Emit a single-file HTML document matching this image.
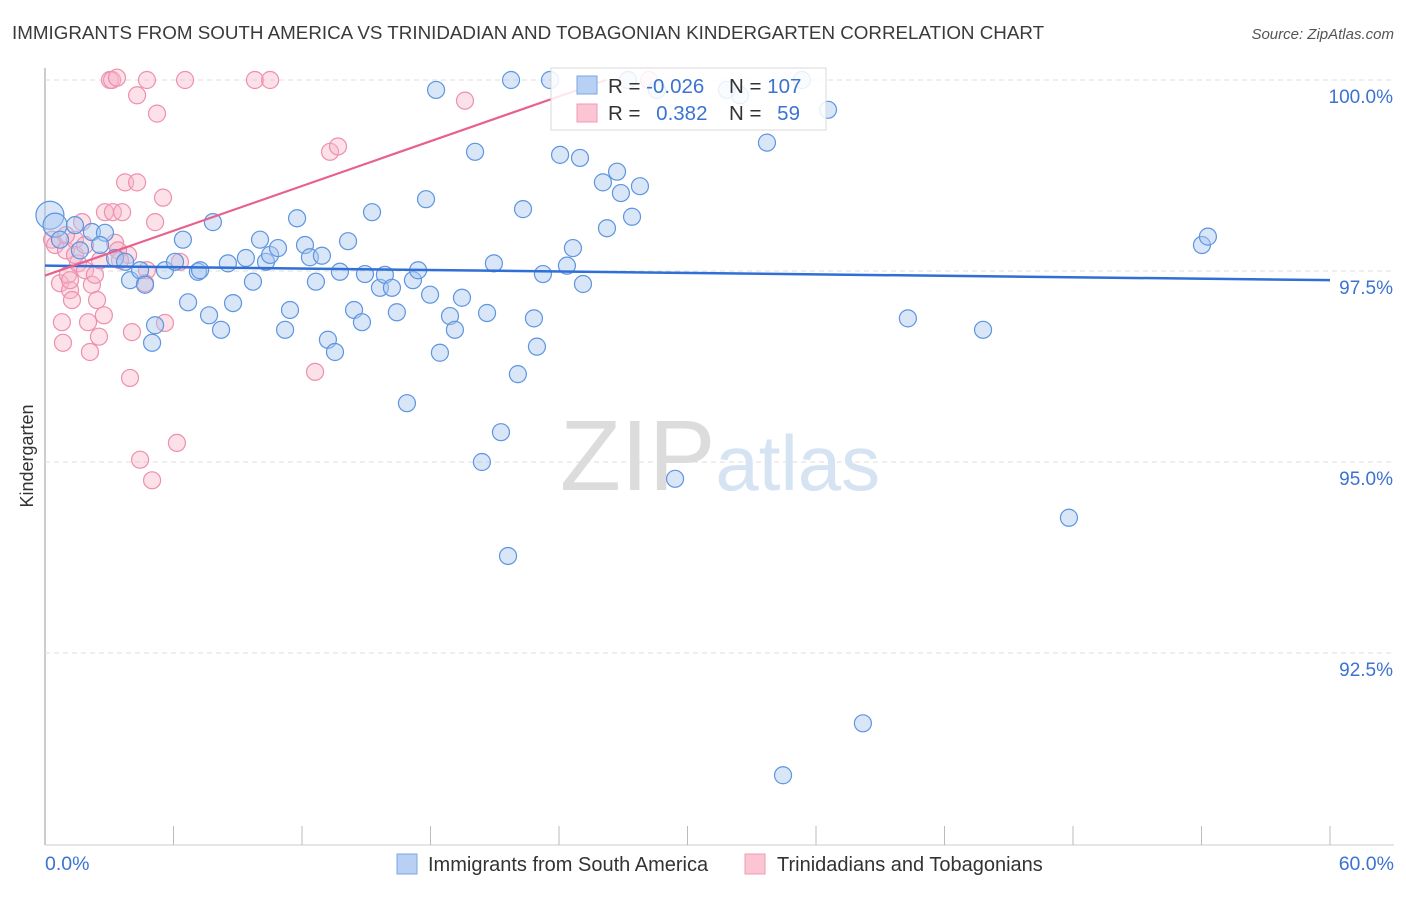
<!DOCTYPE html>
<html><head><meta charset="utf-8"><style>
body{margin:0;background:#fff;font-family:"Liberation Sans",sans-serif}
svg text{font-family:"Liberation Sans",sans-serif}
</style></head><body>
<svg id="chart" width="1406" height="892" viewBox="0 0 1406 892" xmlns="http://www.w3.org/2000/svg">
<text x="12" y="39" font-size="18.8" fill="#3a3a3a">IMMIGRANTS FROM SOUTH AMERICA VS TRINIDADIAN AND TOBAGONIAN KINDERGARTEN CORRELATION CHART</text>
<text x="1394" y="39" font-size="15" fill="#555" font-style="italic" text-anchor="end">Source: ZipAtlas.com</text>
<g id="grid"></g>
<text x="720" y="490" font-size="100" text-anchor="middle" fill="#e6e6e6" font-family="Liberation Serif"><tspan fill="#dcdcdc">ZIP</tspan><tspan fill="#d6e3f3" font-family="Liberation Sans" font-size="78">atlas</tspan></text>
<g id="pts"></g>
<g id="trend"></g>
<text transform="translate(33,456) rotate(-90)" font-size="18" fill="#333" text-anchor="middle">Kindergarten</text>
<text x="45" y="870" font-size="19.5" fill="#3b73d1">0.0%</text>
<text x="1394" y="870" font-size="19.5" fill="#3b73d1" text-anchor="end">60.0%</text>
<g>
<rect x="551" y="68" width="275" height="62" fill="#fff" fill-opacity="0.85" stroke="#d8d8d8"/>
<rect x="577" y="76" width="20" height="18" fill="#b7d0f3" stroke="#7aa6e6"/>
<rect x="577" y="104" width="20" height="18" fill="#fbc5d4" stroke="#f09ab4"/>
<text x="608" y="93" font-size="20.5" fill="#333">R = <tspan fill="#3b73d1">-0.026</tspan></text>
<text x="729" y="93" font-size="20.5" fill="#333">N = <tspan fill="#3b73d1">107</tspan></text>
<text x="608" y="120" font-size="20.5" fill="#333">R = <tspan fill="#3b73d1" dx="10">0.382</tspan></text>
<text x="729" y="120" font-size="20.5" fill="#333">N = <tspan fill="#3b73d1" dx="10">59</tspan></text>
</g>
<g>
<rect x="397" y="854" width="20" height="20" fill="#b7d0f3" stroke="#7aa6e6"/>
<text x="428" y="871" font-size="20" fill="#333">Immigrants from South America</text></g>
<g>
<rect x="745" y="854" width="20" height="20" fill="#fbc5d4" stroke="#f09ab4"/>
<text x="777" y="871" font-size="20" fill="#333">Trinidadians and Tobagonians</text></g>
</svg>
<script>
const yTicks=[92.5,95.0,97.5,100.0];
const xTicks=[0,6,12,18,24,30,36,42,48,54,60];
const blueX=[0.23,0.47,0.70,1.40,1.63,2.19,2.80,2.57,3.27,3.74,3.97,4.44,4.67,5.14,5.00,5.60,6.07,6.44,6.68,7.14,7.24,7.66,7.84,8.22,8.54,8.78,9.38,9.71,10.04,10.32,10.51,10.88,11.21,11.44,11.77,12.14,12.37,12.65,12.93,13.21,13.54,13.77,14.15,14.43,14.80,14.94,15.27,15.64,15.87,16.20,16.43,16.90,17.18,17.42,17.79,17.98,18.26,18.44,18.91,19.14,19.47,20.08,20.40,20.64,20.96,21.29,21.62,21.76,22.08,22.32,22.83,22.97,23.25,23.58,24.05,24.37,24.65,24.98,25.12,26.05,26.24,26.71,26.89,27.22,27.41,27.78,28.57,29.42,31.84,32.45,33.71,34.46,35.34,36.56,38.19,40.29,43.80,47.81,54.02,54.30];
const blueY=[98.23,98.10,97.91,98.10,97.77,98.01,98.00,97.84,97.67,97.62,97.38,97.51,97.32,96.79,96.56,97.51,97.62,97.91,97.09,97.49,97.51,96.92,98.14,96.73,97.60,97.08,97.67,97.36,97.91,97.62,97.71,97.80,96.73,96.99,98.19,97.84,97.68,97.36,97.70,96.60,96.44,97.49,97.89,96.99,96.83,97.46,98.27,97.28,97.45,97.28,96.96,95.77,97.38,97.51,98.44,97.19,99.87,96.43,96.91,96.73,97.15,99.06,95.00,96.95,97.60,95.39,93.77,100.0,96.15,98.31,96.88,96.51,97.46,100.0,99.02,97.57,97.80,98.98,97.33,98.66,98.06,98.80,98.52,100.0,98.21,98.61,99.87,94.78,99.87,99.80,99.18,90.90,100.0,99.61,91.58,96.88,96.73,94.27,97.84,97.95];
const blueR=[14,12];
const pinkX=[0.33,0.47,0.70,0.79,0.84,0.98,1.07,1.17,1.26,1.40,1.54,1.73,1.87,2.01,2.10,2.19,2.33,2.43,2.52,2.75,2.80,3.03,3.13,3.17,3.27,3.36,3.60,3.74,3.97,4.06,4.30,4.30,4.44,4.76,4.76,5.00,5.14,5.23,5.51,5.60,6.16,6.30,6.54,9.80,10.51,12.61,13.31,13.68,19.61,28.20,3.88,0.98,2.57,1.40,3.41,4.67,3.50,1.87,1.17];
const pinkY=[97.91,97.84,97.34,96.83,96.56,97.77,97.45,97.25,97.12,97.91,97.60,98.14,97.51,96.83,96.44,97.32,97.45,97.12,96.64,96.92,98.27,100.0,100.0,98.27,97.87,100.03,98.27,98.66,96.10,96.70,98.66,99.80,95.03,100.0,97.51,94.76,98.14,99.56,98.46,96.82,95.25,97.62,100.0,100.0,100.0,96.18,99.06,99.13,99.73,100.0,97.71,97.97,97.64,97.71,97.77,97.34,97.64,97.84,97.38];
const blueTrend=[[0,97.57],[60,97.38]];
const pinkTrend=[[0,97.44],[26.2,100.0]];
const X0=45,X1=1330,Y0=844,Y1=80;
const sx=v=>X0+(v/60)*(X1-X0);
const sy=v=>Y0-(v-90)/10*(Y0-Y1);
const NS="http://www.w3.org/2000/svg";
function mk(t,a,p){const e=document.createElementNS(NS,t);for(const k in a)e.setAttribute(k,a[k]);p.appendChild(e);return e;}
const grid=document.getElementById('grid');
const ax=mk('line',{x1:X0,y1:68,x2:X0,y2:845,stroke:'#bbb','stroke-width':1.5},grid);


const bx=mk('line',{x1:X0,y1:845,x2:1394,y2:845,stroke:'#ccc'},grid);


yTicks.forEach(t=>{
 const l=mk('line',{x1:X0,x2:1394,y1:sy(t),y2:sy(t),stroke:'#ddd','stroke-dasharray':'5,4'},grid);
 
 
 const tx=mk('text',{x:1393,y:sy(t)+23,'font-size':19,fill:'#3b73d1','text-anchor':'end'},grid);
 tx.textContent=t.toFixed(1)+'%';
 
 
});
xTicks.forEach(t=>{
 const l=mk('line',{x1:sx(t),x2:sx(t),y1:826,y2:845,stroke:'#bbb'},grid);
 
 
});
const pts=document.getElementById('pts');
pinkX.forEach((x,i)=>{
 const c=mk('circle',{cx:sx(x),cy:sy(pinkY[i]),r:8.5,fill:'#f7b3c8','fill-opacity':0.4,stroke:'#ee8fae','stroke-width':1.2},pts);
 
 
});
blueX.forEach((x,i)=>{
 const c=mk('circle',{cx:sx(x),cy:sy(blueY[i]),r:blueR[i]||8.5,fill:'#a9c8f0','fill-opacity':0.45,stroke:'#5d95e0','stroke-width':1.2},pts);
 
 
});
const tr=document.getElementById('trend');
const bl=mk('polyline',{points:blueTrend.map(p=>sx(p[0])+','+sy(p[1])).join(' '),fill:'none',stroke:'#2f6fd6','stroke-width':2.5},tr);


const pl=mk('polyline',{points:pinkTrend.map(p=>sx(p[0])+','+sy(p[1])).join(' '),fill:'none',stroke:'#e8608c','stroke-width':2.2},tr);


</script>
</body></html>
